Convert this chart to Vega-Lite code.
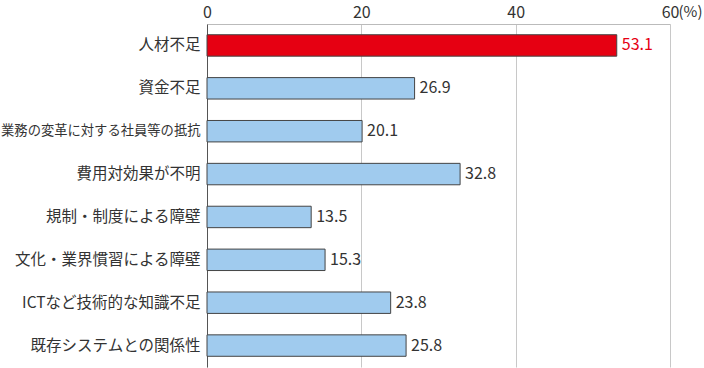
{
  "$schema": "https://vega.github.io/schema/vega-lite/v6.json",
  "width": 463,
  "height": 343,
  "autosize": "none",
  "padding": {"left": 207, "top": 24, "right": 34, "bottom": 1},
  "background": "white",
  "config": {"view": {"stroke": null}, "font": "Noto Sans CJK JP"},
  "data": {"values": [
    {"item": "人材不足", "value": 53.1},
    {"item": "資金不足", "value": 26.9},
    {"item": "業務の変革に対する社員等の抵抗", "value": 20.1},
    {"item": "費用対効果が不明", "value": 32.8},
    {"item": "規制・制度による障壁", "value": 13.5},
    {"item": "文化・業界慣習による障壁", "value": 15.3},
    {"item": "ICTなど技術的な知識不足", "value": 23.8},
    {"item": "既存システムとの関係性", "value": 25.8}
  ]},
  "encoding": {
    "y": {
      "field": "item", "type": "nominal", "sort": null,
      "scale": {"paddingInner": 0.5, "paddingOuter": 0.25},
      "axis": {
        "title": null, "domainColor": "#555", "ticks": false,
        "labelFontSize": {"condition": {"test": "length(datum.value) > 14", "value": 13.3}, "value": 15.5},
        "labelColor": "#333", "labelPadding": 7, "labelLimit": 300
      }
    },
    "x": {
      "field": "value", "type": "quantitative",
      "scale": {"domain": [0, 60]},
      "axis": {
        "orient": "top", "values": [0, 20, 40, 60], "grid": true, "gridColor": "#c8c8c8",
        "domainColor": "#bbb", "ticks": false, "labelFlush": false,
        "labelFontSize": 16, "labelColor": "#333", "labelPadding": 4,
        "title": "(%)", "titleX": 471, "titleY": -13, "titleAlign": "left",
        "titleBaseline": "middle", "titleFontSize": 15, "titleFontWeight": "normal",
        "titleColor": "#333", "titleAngle": 0
      }
    }
  },
  "layer": [
    {
      "mark": {"type": "bar", "stroke": "#444", "strokeWidth": 1},
      "encoding": {
        "color": {
          "condition": {"test": "datum.item === '人材不足'", "value": "#e60012"},
          "value": "#a0cbee"
        }
      }
    },
    {
      "mark": {"type": "text", "align": "left", "baseline": "middle", "dx": 5, "fontSize": 16},
      "encoding": {
        "text": {"field": "value", "type": "quantitative", "format": ".1f"},
        "color": {
          "condition": {"test": "datum.item === '人材不足'", "value": "#e60012"},
          "value": "#333"
        }
      }
    }
  ]
}
